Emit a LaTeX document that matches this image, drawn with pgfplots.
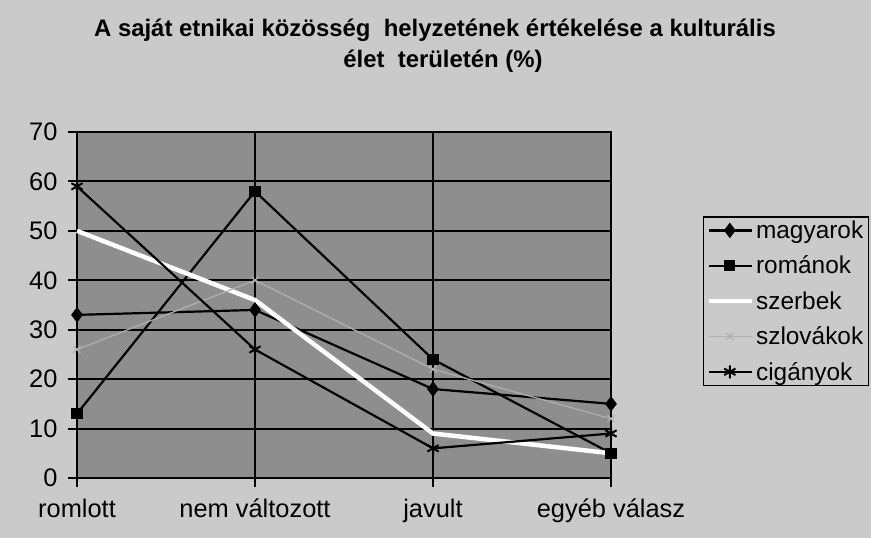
\documentclass[border=0pt]{standalone}
\usepackage{pgfplots}
\pgfplotsset{compat=1.18}
\usepackage{fontspec}
\setmainfont{Liberation Sans}
\definecolor{outerbg}{HTML}{CACACA}
\definecolor{plotbg}{HTML}{8E8E8E}
\definecolor{slgray}{HTML}{B0B0B0}
\begin{document}
\begin{tikzpicture}
\fill[outerbg] (0bp,0bp) rectangle (871bp,538bp);
\useasboundingbox (0bp,0bp) rectangle (871bp,538bp);
\node[anchor=base, font=\fontsize{24}{28}\selectfont\bfseries] at (435bp,501bp) {A saját etnikai közösség\ \ helyzetének értékelése a kulturális};
\node[anchor=base, font=\fontsize{24}{28}\selectfont\bfseries] at (443bp,470bp) {élet\ \ területén (\%)};
\begin{axis}[
  at={(77bp,60bp)}, anchor=south west,
  width=534bp, height=346bp, scale only axis,
  xmin=0, xmax=3, ymin=0, ymax=70,
  xtick={0,1,2,3},
  xticklabels={romlott, nem változott, javult, egyéb válasz},
  ytick={0,10,...,70},
  xtick pos=bottom, ytick pos=left,
  tick align=outside, major tick length=9bp,
  tick style={black, line width=2bp},
  grid=major,
  major grid style={black, line width=2bp},
  axis line style={black, line width=2bp},
  axis background/.style={fill=plotbg},
  ticklabel style={font=\fontsize{25.5}{28}\selectfont},
  xticklabel style={yshift=-8bp, text height=19bp, text depth=6bp},
  yticklabel style={xshift=-7bp},
  /pgf/number format/assume math mode=true,
  legend style={at={(1.172,0.757)}, anchor=north west, fill=outerbg, draw=black, line width=1.5bp,
    font=\fontsize{24.5}{26}\selectfont, row sep=12bp, inner xsep=3bp, inner ysep=2bp,
    cells={anchor=west}},
  legend image code/.code={\draw[mark repeat=2, mark phase=2] plot coordinates {(0bp,0bp) (21bp,0bp) (43bp,0bp)};},
  clip=false,
]
\addplot[black, line width=2.2bp, mark=diamond*, mark size=6bp, mark options={solid, fill=black}]
  coordinates {(0,33) (1,34) (2,18) (3,15)};
\addlegendentry{magyarok}
\addplot[black, line width=2.2bp, mark=square*, mark size=4.5bp, mark options={solid, fill=black}]
  coordinates {(0,13) (1,58) (2,24) (3,5)};
\addlegendentry{románok}
\addplot[white, line width=4.5bp, mark=none]
  coordinates {(0,50) (1,36) (2,9) (3,5)};
\addlegendentry{szerbek}
\addplot[slgray, line width=1.2bp, mark=x, mark size=5bp]
  coordinates {(0,26) (1,40) (2,22) (3,12)};
\addlegendentry{szlovákok}
\addplot[black, line width=2.2bp, mark=asterisk, mark size=6.5bp, mark options={solid, line width=2bp}]
  coordinates {(0,59) (1,26) (2,6) (3,9)};
\addlegendentry{cigányok}
\end{axis}
\end{tikzpicture}
\end{document}
